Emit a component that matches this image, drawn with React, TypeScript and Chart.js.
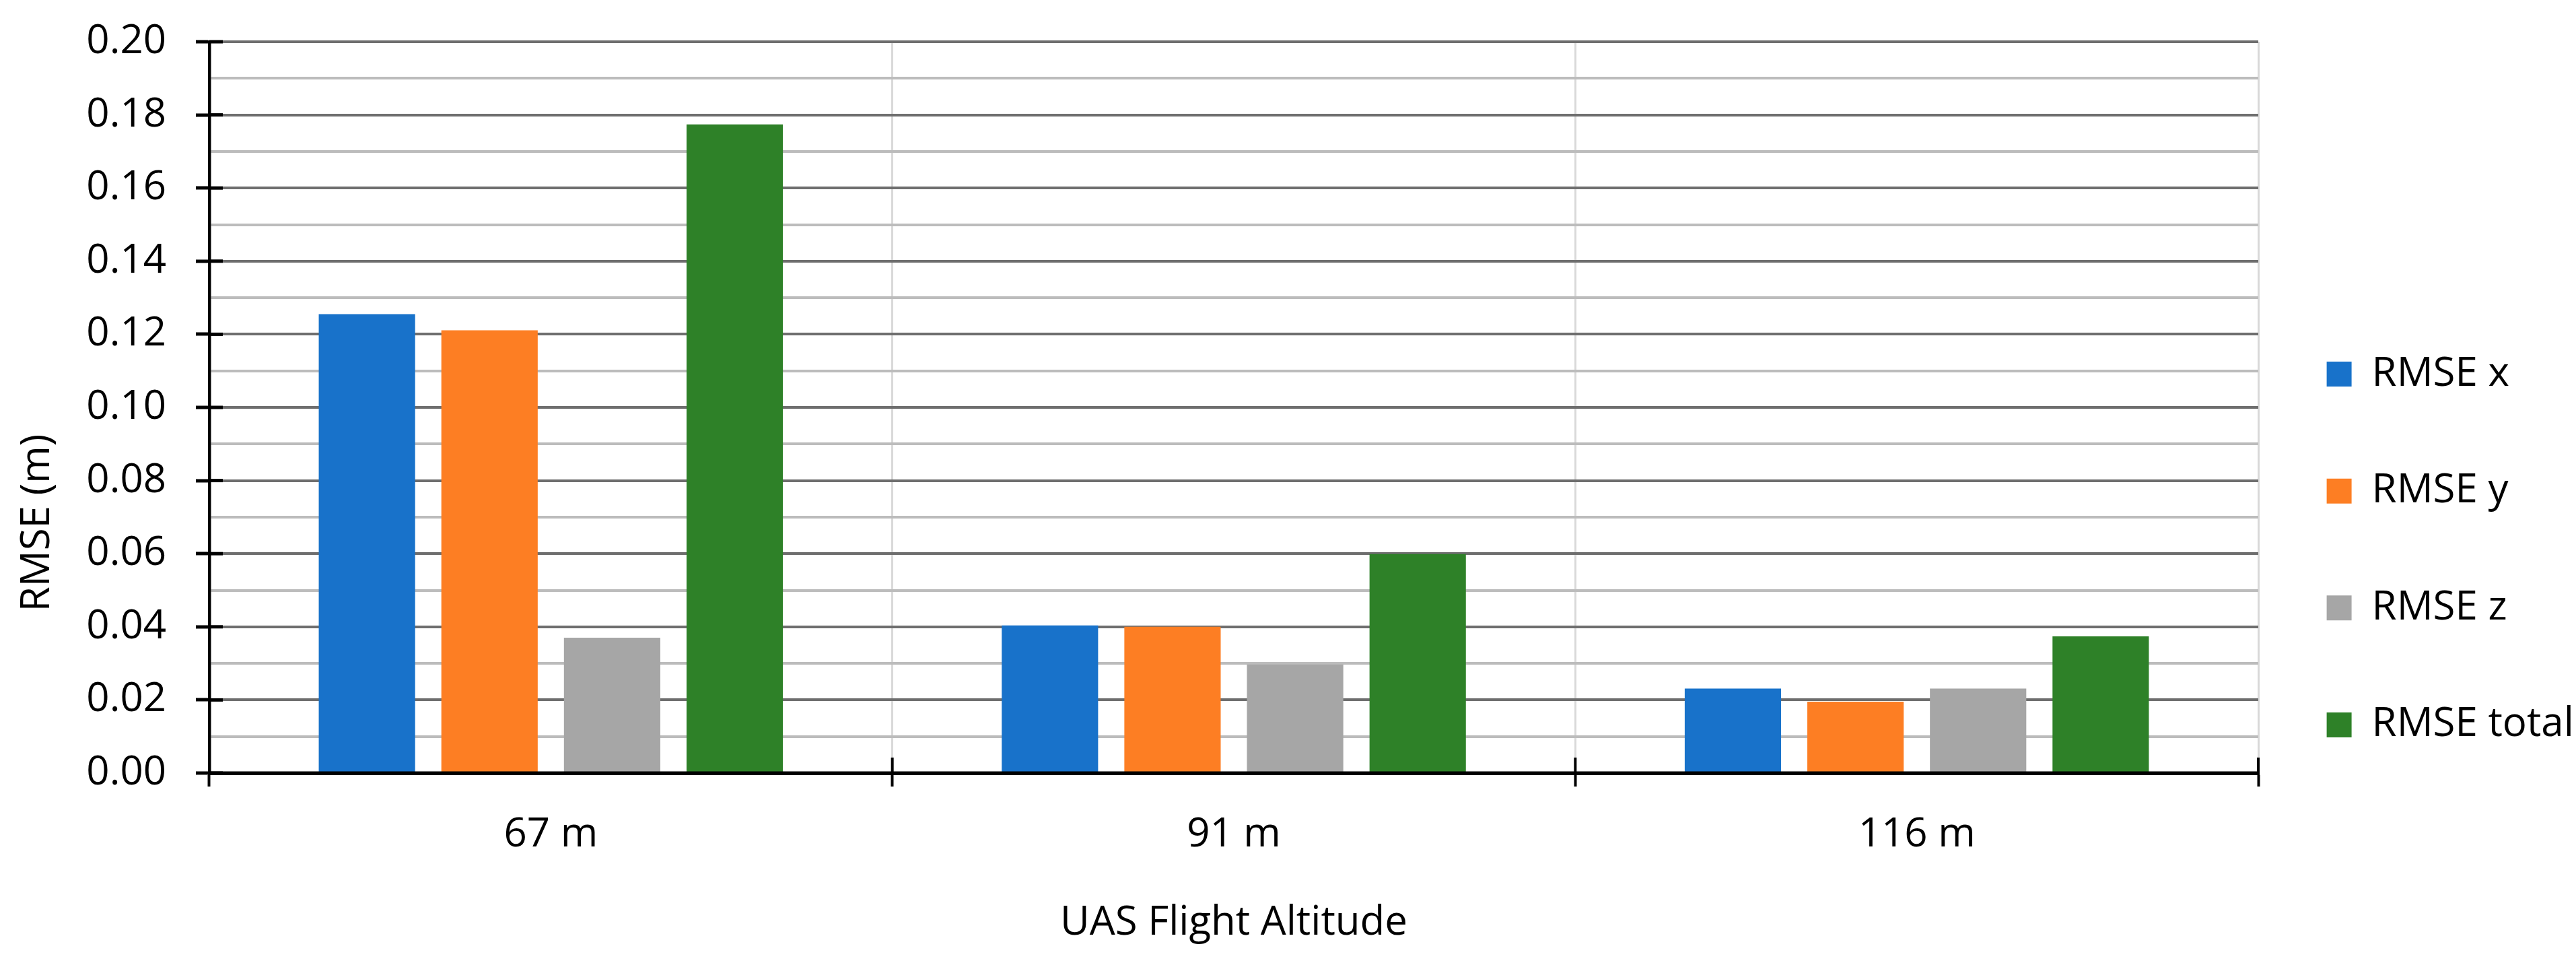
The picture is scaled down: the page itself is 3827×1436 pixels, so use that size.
import React, { useEffect, useRef } from 'react';
import { Chart, registerables } from 'chart.js';

Chart.register(...registerables);

// ---- data ----
const categories = ['67 m', '91 m', '116 m'];
const seriesNames = ['RMSE x', 'RMSE y', 'RMSE z', 'RMSE total'];
const rmseX = [0.1255, 0.0404, 0.0231];
const rmseY = [0.1211, 0.04, 0.0195];
const rmseZ = [0.037, 0.0297, 0.0231];
const rmseTotal = [0.1774, 0.0599, 0.0374];
const seriesColors = ['#1872CA', '#FD7E23', '#A6A6A6', '#2E8128'];
const yMin = 0;
const yMax = 0.2;
const yStep = 0.01;
const xTitle = 'UAS Flight Altitude';
const yTitle = 'RMSE (m)';

const FONT = "'Open Sans', 'Noto Sans', sans-serif";

const isMajor = (v: number) => Math.round(v * 100) % 2 === 0;

const axisOverlay = {
  id: 'axisOverlay',
  afterDatasetsDraw(chart: any) {
    const { ctx, chartArea, scales } = chart;
    const x = scales.x;
    const y = scales.y;
    const y0 = y.getPixelForValue(0);
    ctx.save();
    ctx.strokeStyle = '#000';
    ctx.lineCap = 'butt';
    // inner halves of the major y ticks (they cross the axis)
    ctx.lineWidth = 5;
    y.ticks.forEach((t: any) => {
      if (isMajor(t.value)) {
        const py = y.getPixelForValue(t.value);
        ctx.beginPath();
        ctx.moveTo(chartArea.left, py);
        ctx.lineTo(chartArea.left + 20, py);
        ctx.stroke();
      }
    });
    // inner halves of the category boundary ticks
    const n = x.ticks.length;
    const step = n > 1 ? x.getPixelForValue(1) - x.getPixelForValue(0) : chartArea.right - chartArea.left;
    ctx.lineWidth = 4;
    for (let i = 0; i <= n; i++) {
      const px = x.getPixelForValue(0) - step / 2 + i * step;
      ctx.beginPath();
      ctx.moveTo(px, y0 - 23);
      ctx.lineTo(px, y0);
      ctx.stroke();
    }
    // x axis line drawn over the bar bases
    ctx.lineWidth = 5;
    ctx.beginPath();
    ctx.moveTo(chartArea.left, y0);
    ctx.lineTo(chartArea.right, y0);
    ctx.stroke();
    ctx.restore();
  },
};

export default function App() {
  const ref = useRef<HTMLCanvasElement>(null);

  useEffect(() => {
    document.body.style.margin = '0';
    document.body.style.overflow = 'hidden';
    const canvas = ref.current;
    if (!canvas) return;
    const seriesValues = [rmseX, rmseY, rmseZ, rmseTotal];
    const chart = new Chart(canvas, {
      type: 'bar',
      data: {
        labels: categories,
        datasets: seriesNames.map((name, i) => ({
          label: name,
          data: seriesValues[i],
          backgroundColor: seriesColors[i],
          borderWidth: 0,
          categoryPercentage: 0.718,
          barPercentage: 0.786,
        })),
      },
      plugins: [axisOverlay],
      options: {
        animation: false,
        responsive: true,
        maintainAspectRatio: false,
        devicePixelRatio: 1,
        layout: { padding: { top: 62, left: 0, right: 0, bottom: 0 } },
        plugins: {
          tooltip: { enabled: false },
          legend: {
            position: 'right',
            align: 'center',
            maxWidth: 472,
            title: {
              display: true,
              text: ' ',
              color: 'rgba(0,0,0,0)',
              font: { size: 10, lineHeight: 1 },
              padding: { top: 136, bottom: 0 },
            },
            labels: {
              boxWidth: 37,
              boxHeight: 37,
              padding: 101.6,
              color: '#000',
              font: { family: FONT, size: 60, lineHeight: 1.2 },
              generateLabels: (c: any) =>
                c.data.datasets.map((ds: any, i: number) => ({
                  text: [ds.label],
                  fillStyle: ds.backgroundColor,
                  strokeStyle: ds.backgroundColor,
                  lineWidth: 0,
                  hidden: false,
                  datasetIndex: i,
                  fontColor: '#000',
                })),
            },
          },
        },
        scales: {
          x: {
            offset: true,
            grid: {
              offset: true,
              color: '#d9d9d9',
              lineWidth: 3,
              tickColor: '#000',
              tickWidth: 4,
              tickLength: 20,
            },
            border: { display: true, color: '#000', width: 5 },
            ticks: {
              color: '#000',
              font: { family: FONT, size: 60, lineHeight: 1.2 },
              padding: 36,
              maxRotation: 0,
              autoSkip: false,
            },
            title: {
              display: true,
              text: xTitle,
              color: '#000',
              font: { family: FONT, size: 60, lineHeight: 1.2 },
              padding: { top: 0, bottom: 29 },
            },
            afterFit: (s: any) => {
              s.height = 288;
            },
          },
          y: {
            min: yMin,
            max: yMax,
            ticks: {
              stepSize: yStep,
              maxTicksLimit: 21,
              autoSkip: false,
              color: '#000',
              font: { family: FONT, size: 60, lineHeight: 0.6 },
              padding: 44,
              callback: (v: any) => (isMajor(Number(v)) ? (Math.round(Number(v) * 100) / 100).toFixed(2) : ''),
            },
            grid: {
              color: (c: any) => (isMajor(c.tick.value) ? '#6e6e6e' : '#bcbcbc'),
              lineWidth: 4,
              tickColor: (c: any) => (isMajor(c.tick.value) ? '#000' : 'rgba(0,0,0,0)'),
              tickWidth: 5,
              tickLength: 20,
            },
            border: { display: true, color: '#000', width: 4.5 },
            title: {
              display: true,
              text: yTitle + ' '.repeat(22),
              color: '#000',
              font: { family: FONT, size: 60, lineHeight: 1.2 },
              padding: { top: 20, bottom: 0 },
            },
            afterFit: (s: any) => {
              s.width = 311;
            },
          },
        },
      },
    } as any);
    return () => chart.destroy();
  }, []);

  return (
    <div style={{ position: 'relative', width: 3827, height: 1436 }}>
      <canvas ref={ref} />
    </div>
  );
}
